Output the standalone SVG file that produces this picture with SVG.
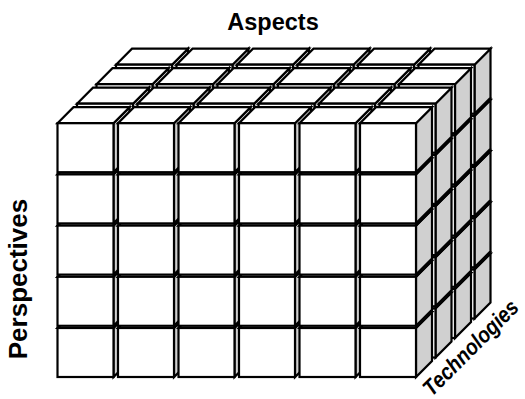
<svg xmlns="http://www.w3.org/2000/svg" xmlns:xlink="http://www.w3.org/1999/xlink" width="525" height="399" viewBox="0 0 525 399">
<style>
.f{fill:#ffffff;stroke:#000;stroke-width:2.2;stroke-linejoin:miter}
.s{fill:#d0d0d0;stroke:#000;stroke-width:2.2;stroke-linejoin:miter}
.lbl{font-family:"Liberation Sans",Arial,sans-serif;font-weight:bold;fill:#000}
</style>
<defs>
<g id="cube">
<polygon class="s" points="56,0 72,-16 72,33 56,49"/>
<polygon class="f" points="0,0 16,-16 72,-16 56,0"/>
<rect class="f" x="0" y="0" width="56" height="49"/>
</g>
<g id="row">
<use href="#cube" xlink:href="#cube" x="0"/>
<use href="#cube" xlink:href="#cube" x="60.5"/>
<use href="#cube" xlink:href="#cube" x="121"/>
<use href="#cube" xlink:href="#cube" x="181.5"/>
<use href="#cube" xlink:href="#cube" x="242"/>
<use href="#cube" xlink:href="#cube" x="302.5"/>
</g>
<g id="layer">
<use href="#row" xlink:href="#row" x="57.5" y="328"/>
<use href="#row" xlink:href="#row" x="57.5" y="276.8"/>
<use href="#row" xlink:href="#row" x="57.5" y="225.6"/>
<use href="#row" xlink:href="#row" x="57.5" y="174.4"/>
<use href="#row" xlink:href="#row" x="57.5" y="123.2"/>
</g>
</defs>
<g id="cubes">
<use id="layer4" href="#layer" xlink:href="#layer" transform="translate(58.5,-58.5)"/>
<use id="layer3" href="#layer" xlink:href="#layer" transform="translate(39,-39)"/>
<use id="layer2" href="#layer" xlink:href="#layer" transform="translate(19.5,-19.5)"/>
<use id="layer1" href="#layer" xlink:href="#layer"/>
</g>
<g id="labels">
<text class="lbl" x="273" y="30" font-size="23.5" text-anchor="middle">Aspects</text>
<text class="lbl" transform="translate(27,279) rotate(-90)" font-size="26" text-anchor="middle">Perspectives</text>
<text class="lbl" transform="translate(476,353) rotate(-45) scale(1,1.15)" font-size="19.5" font-style="italic" text-anchor="middle">Technologies</text>
</g>
</svg>
